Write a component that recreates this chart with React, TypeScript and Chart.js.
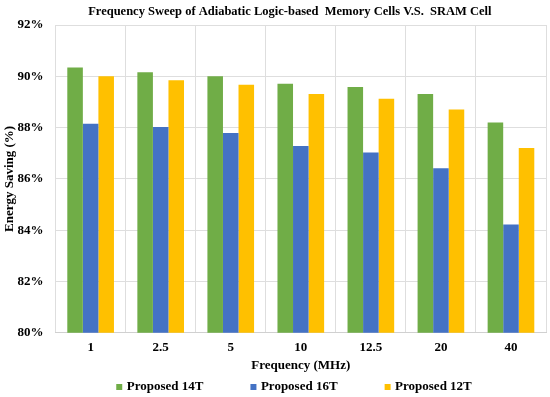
import React, { useEffect, useRef } from "react";
import { Chart, registerables } from "chart.js";
Chart.register(...registerables);

const categories = ["1", "2.5", "5", "10", "12.5", "20", "40"];
const seriesNames = ["Proposed 14T", "Proposed 16T", "Proposed 12T"];
const proposed14T = [90.34, 90.16, 90.0, 89.71, 89.58, 89.31, 88.2];
const proposed16T = [88.15, 88.02, 87.79, 87.28, 87.03, 86.42, 84.22];
const proposed12T = [90.0, 89.85, 89.67, 89.31, 89.12, 88.71, 87.2];
const yTicks = [80, 82, 84, 86, 88, 90, 92];
const colors = ["#70ad47", "#4472c4", "#ffc000"];

const FONT = "'Liberation Serif', 'Times New Roman', serif";
const LEGEND_SLOT = 44;
const LEGEND_SQ = 6;

function makeMarker(color: string): HTMLCanvasElement {
  const c = document.createElement("canvas");
  c.width = LEGEND_SLOT + 6;
  c.height = LEGEND_SQ;
  const ctx = c.getContext("2d")!;
  ctx.fillStyle = color;
  ctx.fillRect(c.width - LEGEND_SQ - 1, 0, LEGEND_SQ, LEGEND_SQ);
  return c;
}

export default function App() {
  const ref = useRef<HTMLCanvasElement | null>(null);
  useEffect(() => {
    if (!ref.current) return;
    const markers = colors.map(makeMarker);
    const chart = new Chart(ref.current, {
      type: "bar",
      data: {
        labels: categories,
        datasets: [
          { label: seriesNames[0], data: proposed14T, backgroundColor: colors[0] },
          { label: seriesNames[1], data: proposed16T, backgroundColor: colors[1] },
          { label: seriesNames[2], data: proposed12T, backgroundColor: colors[2] },
        ],
      },
      options: {
        animation: false,
        responsive: false,
        maintainAspectRatio: false,
        layout: { padding: { left: 2, right: 4, top: 0, bottom: -6 } },
        datasets: { bar: { barPercentage: 1, categoryPercentage: 0.666 } },
        plugins: {
          title: {
            display: true,
            fullSize: false,
            text: "Frequency Sweep of Adiabatic Logic-based  Memory Cells V.S.  SRAM Cell\u00A0\u00A0\u00A0\u00A0\u00A0\u00A0\u00A0",
            color: "#000",
            font: { family: FONT, size: 12.5, weight: "bold" },
            padding: { top: 4.5, bottom: 5.5 },
          },
          legend: {
            position: "bottom",
            labels: {
              color: "#000",
              usePointStyle: true,
              pointStyleWidth: LEGEND_SLOT,
              boxHeight: LEGEND_SQ,
              padding: 7,
              font: { family: FONT, size: 13, weight: "bold" },
              generateLabels: (ch: any) => {
                const items = Chart.defaults.plugins.legend.labels.generateLabels(ch);
                items.forEach((it: any, i: number) => {
                  it.pointStyle = markers[i];
                });
                return items;
              },
            },
          },
          tooltip: { enabled: false },
        },
        scales: {
          x: {
            grid: { color: "#dedede", drawTicks: false },
            border: { color: "#d0d0d0" },
            ticks: { color: "#000", padding: 7.5, font: { family: FONT, size: 13, weight: "bold" } },
            title: {
              display: true,
              text: "Frequency (MHz)",
              color: "#000",
              font: { family: FONT, size: 13, weight: "bold" },
              padding: { top: -6, bottom: 0 },
            },
          },
          y: {
            min: 80,
            max: 92,
            afterBuildTicks: (axis: any) => {
              axis.ticks = yTicks.map((v) => ({ value: v }));
            },
            grid: { color: "#dedede", drawTicks: false },
            border: { display: false },
            ticks: {
              color: "#000",
              padding: 12,
              font: { family: FONT, size: 13, weight: "bold" },
              callback: (v: any) => v + "%",
            },
            title: {
              display: true,
              text: "Energy Saving (%)",
              color: "#000",
              font: { family: FONT, size: 13, weight: "bold" },
              padding: { top: 0, bottom: -12 },
            },
          },
        },
      },
    });
    return () => chart.destroy();
  }, []);
  return (
    <div style={{ position: "fixed", left: 0, top: 0, width: 550, height: 397, background: "#fff" }}>
      <canvas ref={ref} width={550} height={397} />
    </div>
  );
}
